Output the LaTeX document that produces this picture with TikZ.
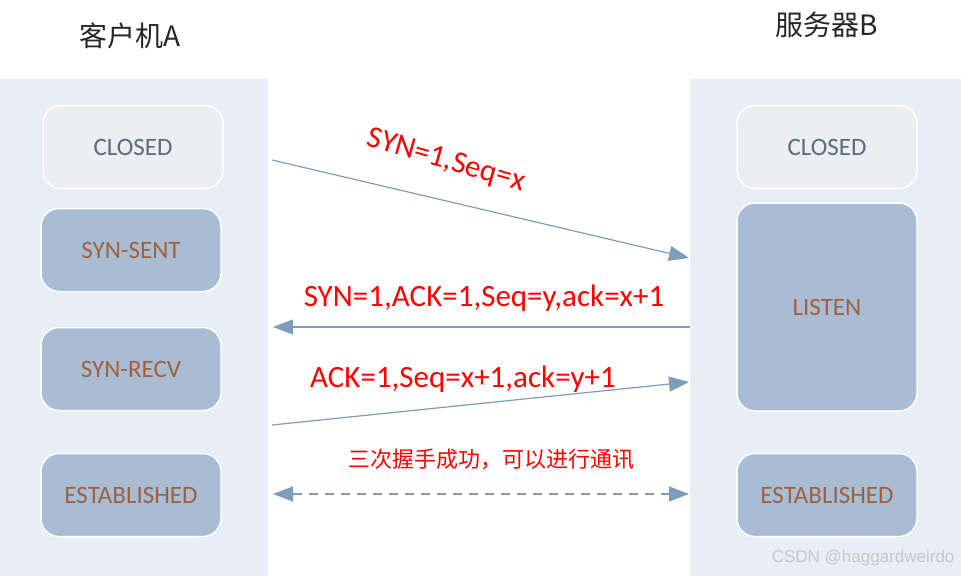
\documentclass[tikz,border=0pt]{standalone}
\usepackage{fontspec}
\setmainfont{Carlito}
\newfontfamily\cjk{Noto Sans CJK SC}
\newfontfamily\wmfont{Liberation Sans}
\usetikzlibrary{arrows.meta,positioning}

\definecolor{panelbg}{HTML}{E8EEF5}
\definecolor{closedbg}{HTML}{ECEEF1}
\definecolor{statebg}{HTML}{A8BDD3}
\definecolor{brownish}{HTML}{A0603C}
\definecolor{slate}{HTML}{5A6C7F}
\definecolor{msgline}{HTML}{7F9DBA}

\begin{document}
\begin{tikzpicture}[x=1pt,y=-1pt,
	panel/.style={fill=panelbg, draw=none},
	state/.style={rounded corners=18pt, draw=white, line width=1.5pt, fill=statebg,
		text=brownish, font=\fontsize{25}{29}\selectfont, minimum width=180pt, minimum height=83pt},
	closedstate/.style={state, fill=closedbg, text=slate},
	msg/.style={draw=msgline, line width=1.2pt, -{Triangle[length=20pt,width=15pt]}},
	msglabel/.style={text=red, font=\fontsize{31}{35}\selectfont},
	title/.style={font=\cjk\fontsize{28}{32}\selectfont, text=black!85}]
	\useasboundingbox (0,0) rectangle (961,576);

	% the two sides
	\fill[panel] (0,79) rectangle (268,576);
	\fill[panel] (690,79) rectangle (961,576);
	\node[title] (clientA) at (130,36) {客户机A};
	\node[title] (serverB) at (827,25) {服务器B};

	% client states
	\node[closedstate] (aclosed) at (133,147) {CLOSED};
	\node[state] (asent) at (131,250) {SYN-SENT};
	\node[state] (arecv) at (131,369) {SYN-RECV};
	\node[state] (aest) at (131,495) {ESTABLISHED};

	% server states
	\node[closedstate] (bclosed) at (827,147) {CLOSED};
	\node[state, minimum height=208pt] (blisten) at (827,307) {LISTEN};
	\node[state] (best) at (827,495) {ESTABLISHED};

	% ends of the messages
	\coordinate (m1a) at (272,160);
	\coordinate (m1b) at (689,258);
	\coordinate (m2b) at (690,327);
	\coordinate (m2a) at (273,327);
	\coordinate (m3a) at (272,425);
	\coordinate (m3b) at (689,382);
	\coordinate (m4a) at (273,494);
	\coordinate (m4b) at (689,494);

	\draw[msg] (m1a) -- (m1b);
	\draw[msg] (m2b) -- (m2a);
	\draw[msg] (m3a) -- (m3b);
	\draw[msg, dashed, dash pattern=on 9pt off 7pt, {Triangle[length=20pt,width=15pt]}-{Triangle[length=20pt,width=15pt]}] (m4a) -- (m4b);

	\node[msglabel, rotate=-16] (l1) at (446,161) {SYN=1,Seq=x};
	\node[msglabel] (l2) at (484,298) {SYN=1,ACK=1,Seq=y,ack=x+1};
	\node[msglabel] (l3) at (463,379) {ACK=1,Seq=x+1,ack=y+1};
	\node[text=red, font=\cjk\fontsize{22}{26}\selectfont] (l4) at (491,459) {三次握手成功，可以进行通讯};

	\node[text=black!22, font=\wmfont\fontsize{17}{20}\selectfont, anchor=east] (mark) at (958,558) {CSDN @haggardweirdo};
\end{tikzpicture}
\end{document}
